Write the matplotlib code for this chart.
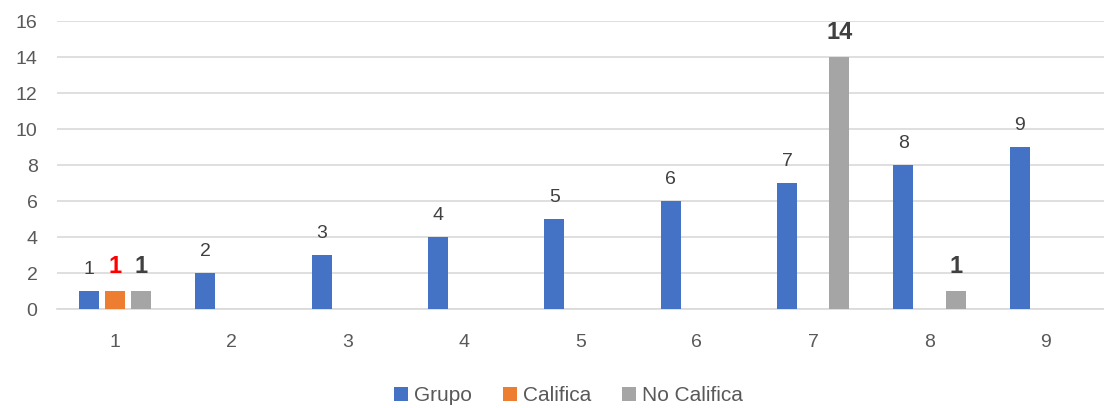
import numpy as np
from matplotlib import pyplot as plt

categorias = ["1", "2", "3", "4", "5", "6", "7", "8", "9"]
grupo = [1, 2, 3, 4, 5, 6, 7, 8, 9]
califica = [1, 0, 0, 0, 0, 0, 0, 0, 0]
no_califica = [1, 0, 0, 0, 0, 0, 14, 1, 0]

plt.rcParams['font.family'] = ['Liberation Sans', 'DejaVu Sans']

fig = plt.figure(figsize=(11.04, 4.08), dpi=100)
ax = fig.add_axes([0.0516, 0.2426, 0.9484, 0.7059])

x = np.arange(len(categorias))
w = 0.17
off = 0.225
b1 = ax.bar(x - off, grupo, w, color='#4472C4', label="Grupo", zorder=3)
b2 = ax.bar(x, califica, w, color='#ED7D31', label="Califica", zorder=3)
b3 = ax.bar(x + off, no_califica, w, color='#A5A5A5', label="No Califica", zorder=3)

# etiquetas de datos
for xi, v in zip(x, grupo):
    ax.text(xi - off, v + 0.75, str(v), ha='center', va='bottom',
            fontsize=14, color='#404040')
for xi, v in zip(x, califica):
    if v > 0:
        ax.text(xi, v + 0.75, str(v), ha='center', va='bottom',
                fontsize=17, fontweight='bold', color='#FF0000')
for xi, v in zip(x, no_califica):
    if v > 0:
        ax.text(xi + off, v + 0.75, str(v), ha='center', va='bottom',
                fontsize=17, fontweight='bold', color='#404040')

ax.set_xlim(-0.5, len(categorias) - 0.5)
ax.set_ylim(0, 16)
ax.set_yticks(range(0, 17, 2))
ax.set_xticks(x)
ax.set_xticklabels(categorias)
ax.tick_params(axis='both', length=0, labelsize=14, colors='#595959')
ax.tick_params(axis='x', pad=18)
ax.tick_params(axis='y', pad=14)
ax.grid(axis='y', color='#D9D9D9', linewidth=1.2, zorder=0)
for s in ['top', 'right', 'left']:
    ax.spines[s].set_visible(False)
ax.spines['bottom'].set_color('#D9D9D9')
ax.spines['bottom'].set_linewidth(1.2)

leg = fig.legend(handles=[b1, b2, b3], loc='center', bbox_to_anchor=(0.515, 0.03),
                 ncol=3, frameon=False, fontsize=15, handlelength=0.65,
                 handleheight=0.65, handletextpad=0.3, columnspacing=1.5)
for t in leg.get_texts():
    t.set_color('#595959')

plt.savefig('out.png', dpi=100)
